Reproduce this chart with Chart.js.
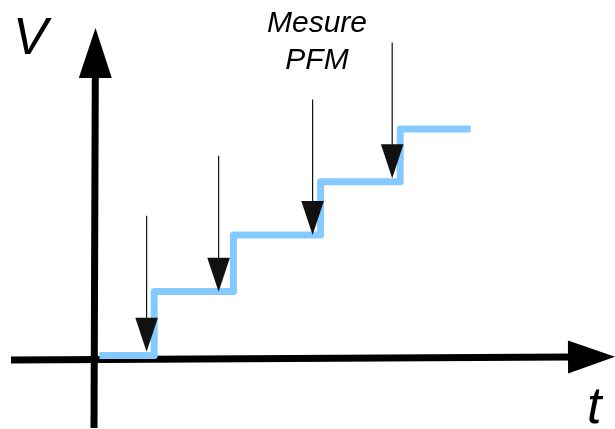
<!DOCTYPE html>
<html><head><meta charset="utf-8">
<script src="https://cdn.jsdelivr.net/npm/chart.js@4"></script>
<style>html,body{margin:0;padding:0;background:#fff}#wrap{width:615px;height:429px;position:relative}</style>
</head><body><div id="wrap"><canvas id="c"></canvas></div>
<script>
// Staircase voltage (arbitrary units)
const stepTimes = [0.11, 1.48, 3.46, 5.64, 7.63, 9.39];
const stepVoltages = [0.09, 1.69, 3.10, 4.43, 5.75, 5.75];
// Measurement arrows (PFM)
const measureTimes = [1.29, 3.09, 5.44, 7.43];
const measureTipV = [0.18, 1.68, 3.10, 4.52];
const measureTopV = [3.58, 5.08, 6.49, 7.91];
// Axes extents [t, V]
const tAxisStart = [-2.1, -0.025];
const tAxisEnd = [13.0, 0.058];
const vAxisStart = [-0.025, -1.725];
const vAxisEnd = [0.012, 8.275];
// Texts
const axisLabelV = 'V';
const axisLabelT = 't';
const annotationLines = ['Mesure', 'PFM'];

function drawArrow(ctx, x1, y1, x2, y2, lw, headLen, headHalf, color) {
  const dx = x2 - x1, dy = y2 - y1;
  const len = Math.hypot(dx, dy);
  const ux = dx / len, uy = dy / len;
  const bx = x2 - ux * headLen, by = y2 - uy * headLen;
  ctx.save();
  ctx.strokeStyle = color;
  ctx.fillStyle = color;
  ctx.lineWidth = lw;
  ctx.lineCap = 'butt';
  ctx.beginPath();
  ctx.moveTo(x1, y1);
  ctx.lineTo(bx + ux * 2, by + uy * 2);
  ctx.stroke();
  ctx.beginPath();
  ctx.moveTo(x2, y2);
  ctx.lineTo(bx - uy * headHalf, by + ux * headHalf);
  ctx.lineTo(bx + uy * headHalf, by - ux * headHalf);
  ctx.closePath();
  ctx.fill();
  ctx.restore();
}

const schematicPlugin = {
  id: 'schematic',
  beforeDatasetsDraw(chart) {
    const ctx = chart.ctx, xs = chart.scales.x, ys = chart.scales.y;
    drawArrow(ctx, xs.getPixelForValue(tAxisStart[0]), ys.getPixelForValue(tAxisStart[1]),
      xs.getPixelForValue(tAxisEnd[0]), ys.getPixelForValue(tAxisEnd[1]), 7, 47, 16.5, '#000');
    drawArrow(ctx, xs.getPixelForValue(vAxisStart[0]), ys.getPixelForValue(vAxisStart[1]),
      xs.getPixelForValue(vAxisEnd[0]), ys.getPixelForValue(vAxisEnd[1]), 7, 50, 16.5, '#000');
  },
  afterDatasetsDraw(chart) {
    const ctx = chart.ctx, xs = chart.scales.x, ys = chart.scales.y;
    measureTimes.forEach((t, i) => {
      const x = xs.getPixelForValue(t);
      drawArrow(ctx, x, ys.getPixelForValue(measureTopV[i]), x, ys.getPixelForValue(measureTipV[i]),
        1.2, 34, 11.3, '#111');
    });
    ctx.save();
    ctx.fillStyle = '#000';
    ctx.textBaseline = 'alphabetic';
    ctx.font = 'italic 52px "Liberation Sans", Arial, sans-serif';
    ctx.textAlign = 'left';
    ctx.fillText(axisLabelV, 13, 54);
    ctx.fillText(axisLabelT, 587, 423);
    ctx.font = 'italic 30px "Liberation Sans", Arial, sans-serif';
    ctx.textAlign = 'center';
    ctx.fillText(annotationLines[0], 317, 32);
    ctx.fillText(annotationLines[1], 317, 69);
    ctx.restore();
  }
};

new Chart(document.getElementById('c'), {
  type: 'line',
  data: {
    datasets: [{
      data: stepTimes.map((t, i) => ({ x: t, y: stepVoltages[i] })),
      stepped: 'before',
      borderColor: '#84c9ff',
      borderWidth: 7,
      borderJoinStyle: 'round',
      borderCapStyle: 'butt',
      pointRadius: 0,
      fill: false,
      clip: false
    }]
  },
  options: {
    responsive: true,
    maintainAspectRatio: false,
    animation: false,
    events: [],
    layout: { padding: 0 },
    plugins: { legend: { display: false }, tooltip: { enabled: false }, title: { display: false } },
    scales: {
      x: { type: 'linear', min: -2.375, max: 13, display: false },
      y: { type: 'linear', min: -1.75, max: 8.975, display: false }
    }
  },
  plugins: [schematicPlugin]
});
</script>
</body></html>
